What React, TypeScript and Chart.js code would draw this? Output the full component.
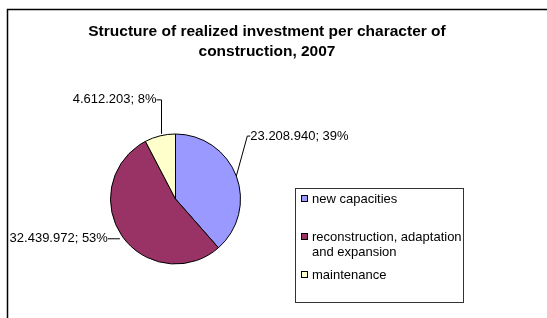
import React, { useEffect, useRef } from "react";
import { Chart, registerables } from "chart.js";

Chart.register(...registerables);

const titleLines = ["Structure of realized investment per character of", "construction, 2007"];
const categories = ["new capacities", "reconstruction, adaptation and expansion", "maintenance"];
const legendLines = [["new capacities"], ["reconstruction, adaptation", "and expansion"], ["maintenance"]];
const values = [23208940, 32439972, 4612203];
const dataLabels = ["23.208.940; 39%", "32.439.972; 53%", "4.612.203; 8%"];
const colors = ["#9999FF", "#993366", "#FFFFCC"];

const FONT = '"Liberation Sans", Arial, sans-serif';

const decor = {
  id: "decor",
  afterDraw(chart: any) {
    const ctx = chart.ctx as CanvasRenderingContext2D;
    ctx.save();
    // outer frame (top and left visible)
    ctx.strokeStyle = "#000";
    ctx.lineWidth = 1.5;
    ctx.beginPath();
    ctx.moveTo(7.5, 320);
    ctx.lineTo(7.5, 9.5);
    ctx.lineTo(560, 9.5);
    ctx.stroke();

    // title
    ctx.fillStyle = "#000";
    ctx.font = `bold 15.5px ${FONT}`;
    ctx.textAlign = "center";
    ctx.textBaseline = "middle";
    ctx.fillText(titleLines[0], 267, 32);
    ctx.fillText(titleLines[1], 267, 52);

    // leader lines + labels
    const meta = chart.getDatasetMeta(0);
    ctx.font = `13px ${FONT}`;
    ctx.lineWidth = 1;
    ctx.strokeStyle = "#000";
    meta.data.forEach((arc: any, i: number) => {
      const p = arc.getProps(["x", "y", "startAngle", "endAngle", "outerRadius"], true);
      const mid = (p.startAngle + p.endAngle) / 2;
      const ax = p.x + Math.cos(mid) * p.outerRadius;
      const ay = p.y + Math.sin(mid) * p.outerRadius;
      ctx.beginPath();
      if (i === 0) {
        const ex = ax + 11, ey = ay - 40;
        ctx.moveTo(ax, ay);
        ctx.lineTo(ex, ey);
        ctx.lineTo(ex + 3, ey);
        ctx.stroke();
        ctx.textAlign = "left";
        ctx.fillText(dataLabels[i], ex + 3, ey);
      } else if (i === 1) {
        const ex = ax - 14;
        ctx.moveTo(ax - 2, ay + 3);
        ctx.lineTo(ex, ay + 3);
        ctx.stroke();
        ctx.textAlign = "right";
        ctx.fillText(dataLabels[i], ex, ay + 3);
      } else {
        const vx = Math.round(ax) + 1.5;
        const ey = ay - 36;
        ctx.moveTo(vx, ay - 2);
        ctx.lineTo(vx, ey);
        ctx.lineTo(vx - 5, ey);
        ctx.stroke();
        ctx.textAlign = "right";
        ctx.fillText(dataLabels[i], vx - 5, ey);
      }
    });

    // legend
    ctx.strokeStyle = "#333";
    ctx.lineWidth = 1;
    ctx.strokeRect(295.5, 188.5, 168, 114);
    const rows = [[199], [237, 252], [275]];
    ctx.textAlign = "left";
    legendLines.forEach((lines, i) => {
      ctx.fillStyle = colors[i];
      ctx.fillRect(301.5, rows[i][0] - 3.5, 6, 6);
      ctx.strokeStyle = "#000";
      ctx.strokeRect(301.5, rows[i][0] - 3.5, 6, 6);
      ctx.fillStyle = "#000";
      lines.forEach((t, j) => ctx.fillText(t, 312, rows[i][j]));
    });
    ctx.restore();
  },
};

export default function App() {
  const ref = useRef<HTMLCanvasElement>(null);
  useEffect(() => {
    const chart = new Chart(ref.current!, {
      type: "pie",
      data: {
        labels: categories,
        datasets: [
          {
            data: values,
            backgroundColor: colors,
            borderColor: "#000",
            borderWidth: 1,
          },
        ],
      },
      options: {
        animation: false,
        responsive: false,
        layout: { padding: { left: 110, right: 306, top: 133, bottom: 53 } },
        plugins: { legend: { display: false }, tooltip: { enabled: false }, title: { display: false } },
      },
      plugins: [decor],
    });
    return () => chart.destroy();
  }, []);
  return (
    <div style={{ position: "fixed", left: 0, top: 0, width: 547, height: 318, background: "#fff" }}>
      <canvas ref={ref} width={547} height={318} style={{ display: "block" }} />
    </div>
  );
}
